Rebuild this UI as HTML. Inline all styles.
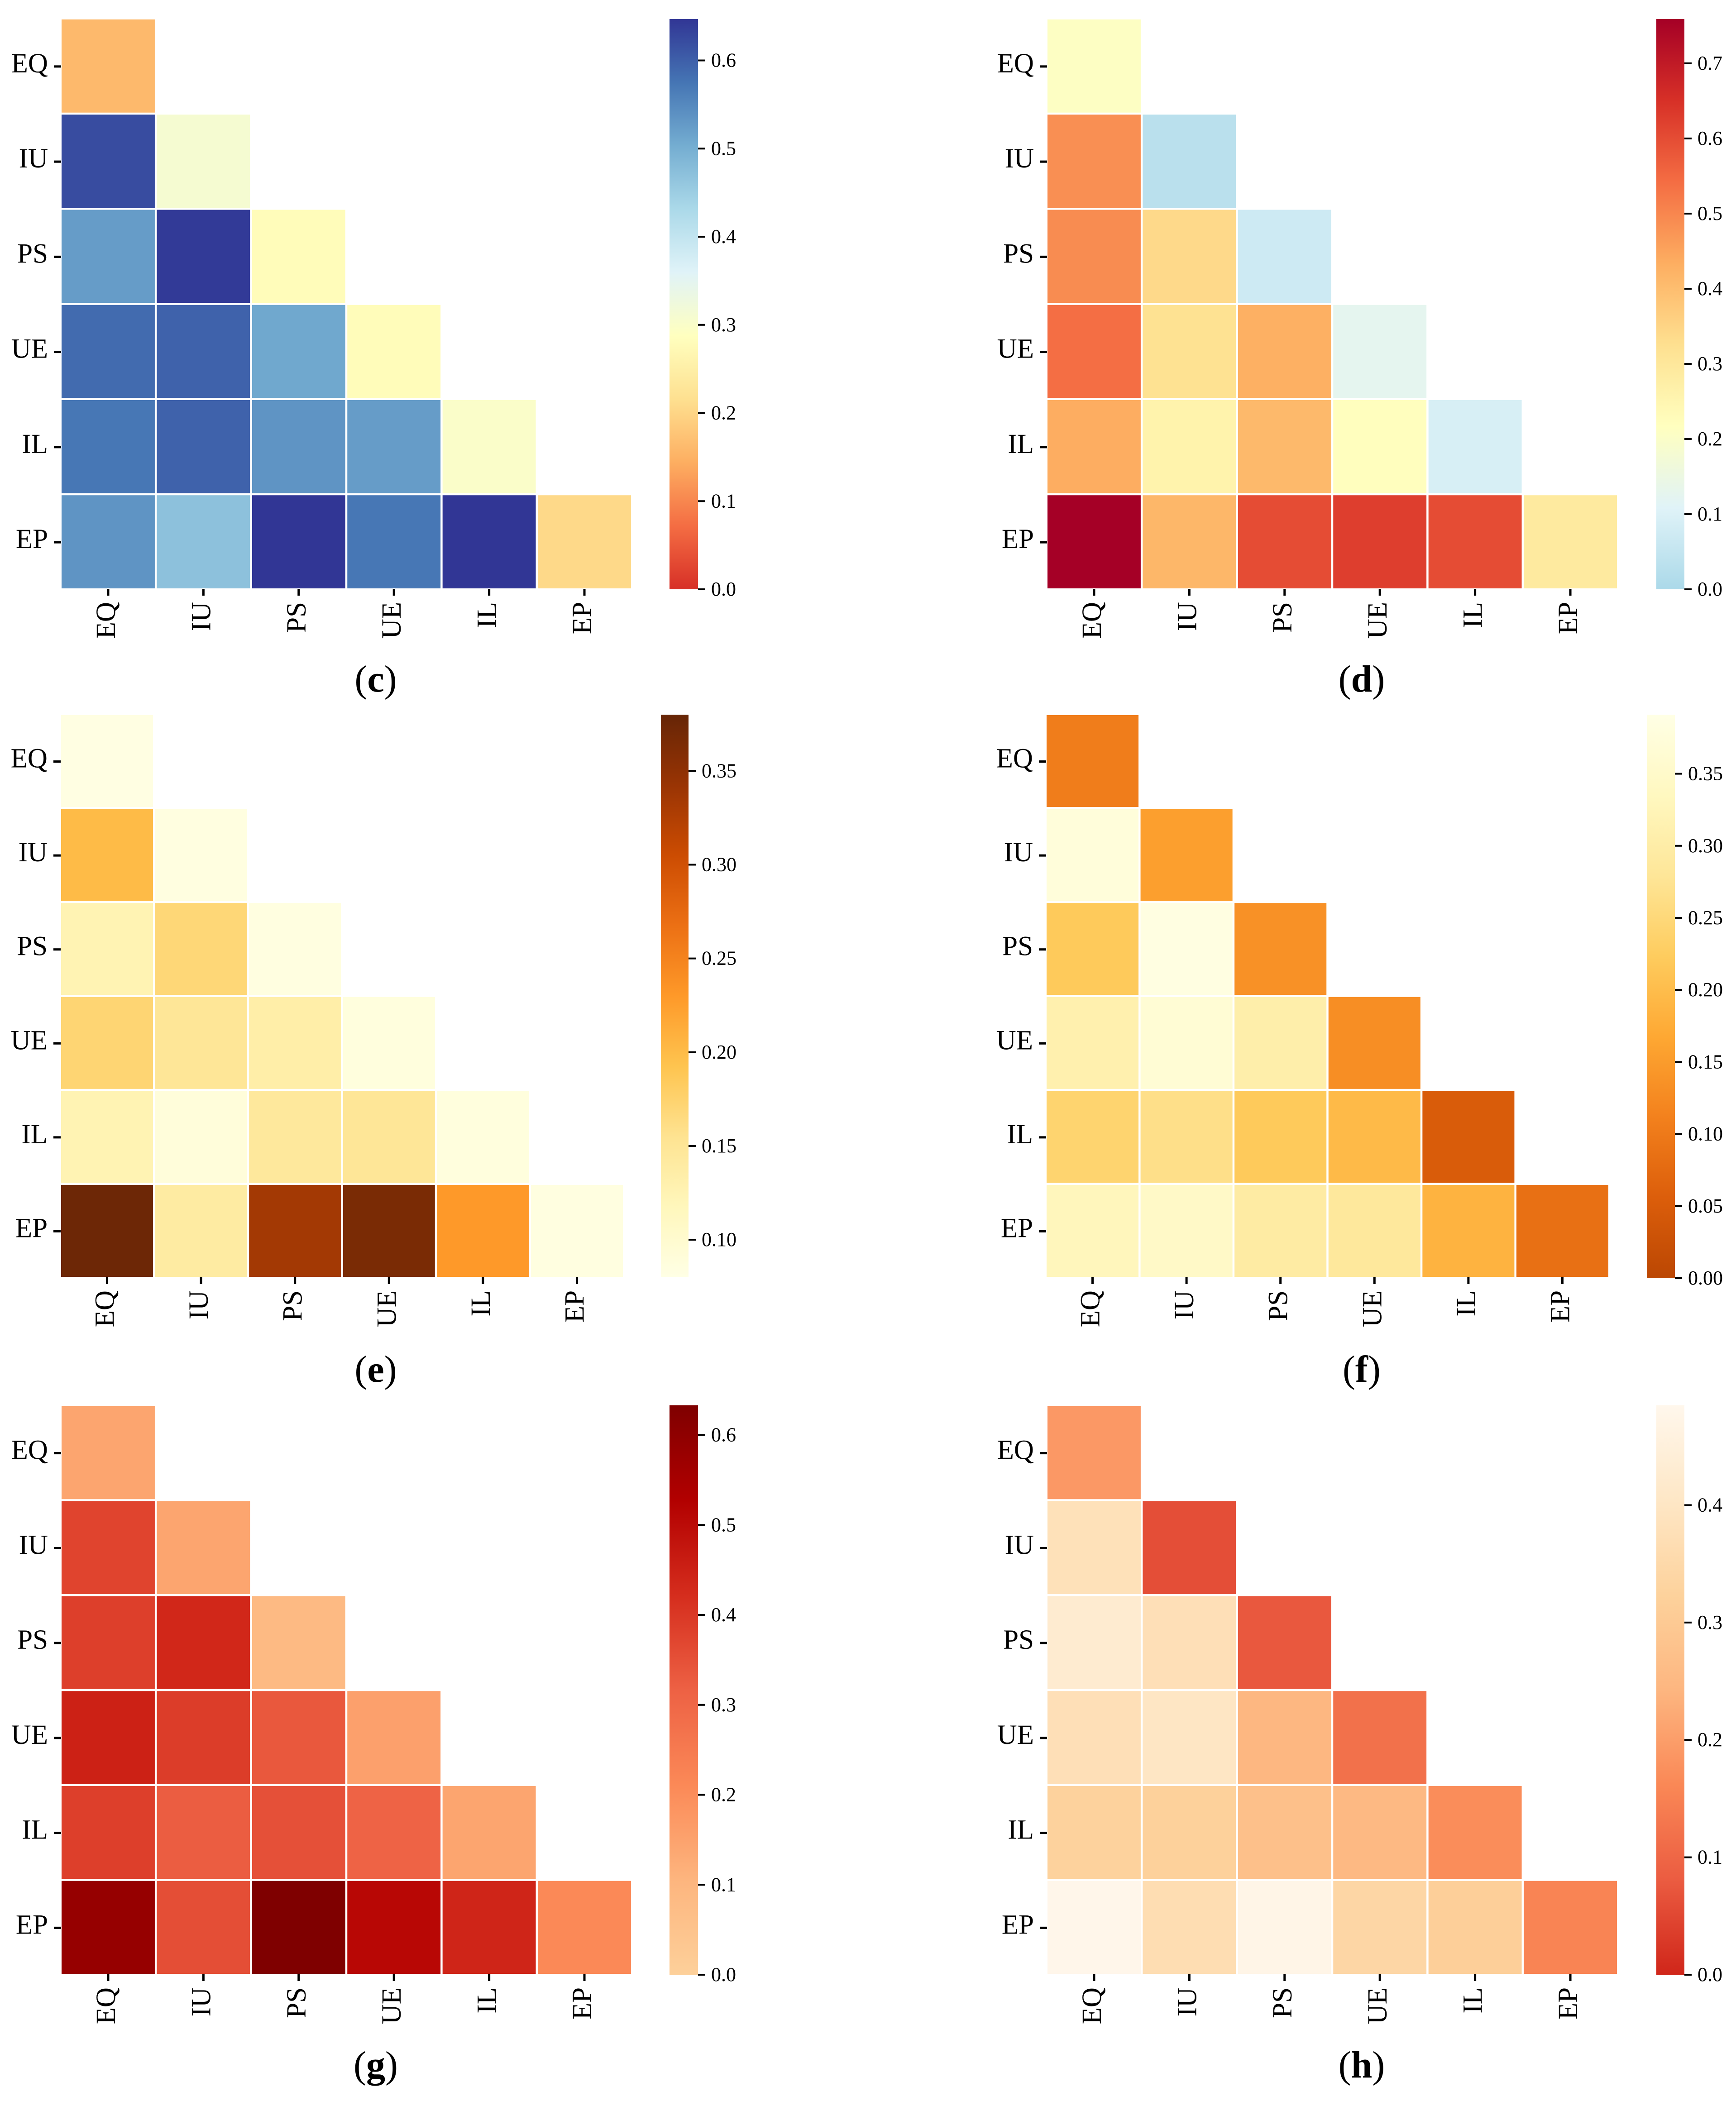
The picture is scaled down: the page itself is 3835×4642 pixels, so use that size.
<!DOCTYPE html>
<html lang="en">
<head>
<meta charset="utf-8">
<title>Correlation heatmaps (c)–(h)</title>
<style>
  html, body { margin: 0; padding: 0; background: #ffffff; }
  svg { display: block; }
  text { font-family: "Liberation Serif", serif; fill: #000; }
</style>
</head>
<body>
<svg id="figure" xmlns="http://www.w3.org/2000/svg" width="3835" height="4642" viewBox="0 0 3835 4642">
  <rect x="0" y="0" width="3835" height="4642" fill="#ffffff"></rect>
</svg>
<script>
// ---- Data ----
const categories = ["EQ", "IU", "PS", "UE", "IL", "EP"];

const valuesC = [
  [0.16],
  [0.622, 0.31],
  [0.525, 0.642, 0.28],
  [0.587, 0.597, 0.51, 0.28],
  [0.572, 0.597, 0.535, 0.525, 0.30],
  [0.535, 0.47, 0.647, 0.572, 0.647, 0.205]
];
const valuesD = [
  [0.21],
  [0.485, 0.03],
  [0.49, 0.34, 0.07],
  [0.54, 0.32, 0.43, 0.125],
  [0.435, 0.26, 0.41, 0.22, 0.09],
  [0.76, 0.415, 0.60, 0.625, 0.60, 0.29]
];
const valuesE = [
  [0.083],
  [0.20, 0.085],
  [0.125, 0.17, 0.085],
  [0.172, 0.15, 0.135, 0.087],
  [0.125, 0.09, 0.145, 0.15, 0.087],
  [0.375, 0.14, 0.335, 0.365, 0.23, 0.085]
];
const valuesF = [
  [0.105],
  [0.375, 0.155],
  [0.22, 0.385, 0.135],
  [0.31, 0.365, 0.305, 0.13],
  [0.24, 0.265, 0.22, 0.195, 0.05],
  [0.33, 0.345, 0.295, 0.285, 0.185, 0.085]
];
const valuesG = [
  [0.145],
  [0.375, 0.145],
  [0.385, 0.435, 0.085],
  [0.45, 0.39, 0.335, 0.155],
  [0.385, 0.325, 0.35, 0.31, 0.145],
  [0.585, 0.355, 0.633, 0.51, 0.44, 0.21]
];
const valuesH = [
  [0.19],
  [0.38, 0.06],
  [0.425, 0.375, 0.075],
  [0.375, 0.40, 0.245, 0.12],
  [0.325, 0.32, 0.27, 0.25, 0.17],
  [0.48, 0.365, 0.475, 0.34, 0.315, 0.155]
];

const ticksC = [0, 0.1, 0.2, 0.3, 0.4, 0.5, 0.6];
const ticksD = [0, 0.1, 0.2, 0.3, 0.4, 0.5, 0.6, 0.7];
const ticksE = [0.10, 0.15, 0.20, 0.25, 0.30, 0.35];
const ticksF = [0, 0.05, 0.10, 0.15, 0.20, 0.25, 0.30, 0.35];
const ticksG = [0, 0.1, 0.2, 0.3, 0.4, 0.5, 0.6];
const ticksH = [0, 0.1, 0.2, 0.3, 0.4];

const rangeC = [0, 0.647];
const rangeD = [0, 0.759];
const rangeE = [0.08, 0.38];
const rangeF = [0, 0.391];
const rangeG = [0, 0.633];
const rangeH = [0, 0.485];

// Colour ramps, low value to high value, evenly spaced
const rampC = ["#d73027","#f46d43","#fdae61","#fee090","#ffffbf","#e0f3f8","#abd9e9","#74add1","#4575b4","#313695"];
const rampD = ["#abd9e9","#e0f3f8","#ffffbf","#fee090","#fdae61","#f46d43","#d73027","#a50026"];
const rampE = ["#ffffe5","#fff7bc","#fee391","#fec44f","#fe9929","#ec7014","#cc4c02","#993404","#662506"];
const rampF = ["#bb4703","#dc5e0b","#f3811d","#fea833","#fecc5e","#fee698","#fff8c0","#ffffe5"];
const rampG = ["#fdd09a","#fdb57e","#fb8957","#ed6144","#d52d1d","#b20000","#7f0000"];
const rampH = ["#d0261a","#eb5c41","#fa8856","#fdb680","#fdd29c","#fee7c6","#fff7ec"];

// ---- Layout ----
const GAP = 4.5;
const colLeft = { x0: 136, x1: 1394, barX0: 1479, barX1: 1542, capX: 830 };
const colRight = { x0: 2314, x1: 3572, barX0: 3659, barX1: 3721, capX: 3008 };
const panels = [
  { id: "c", values: valuesC, ticks: ticksC, range: rangeC, ramp: rampC, digits: 1, ...colLeft, y0: 43, y1: 1300, barY0: 42, barY1: 1302, capY: 1528 },
  { id: "d", values: valuesD, ticks: ticksD, range: rangeD, ramp: rampD, digits: 1, ...colRight, y0: 43, y1: 1300, barY0: 42, barY1: 1302, capY: 1528 },
  { id: "e", values: valuesE, ticks: ticksE, range: rangeE, ramp: rampE, digits: 2, x0: 135, x1: 1376, barX0: 1460, barX1: 1521, capX: 830, y0: 1580, y1: 2821, barY0: 1579, barY1: 2822, capY: 3053 },
  { id: "f", values: valuesF, ticks: ticksF, range: rangeF, ramp: rampF, digits: 2, x0: 2312, x1: 3553, barX0: 3638, barX1: 3700, capX: 3008, y0: 1580, y1: 2821, barY0: 1579, barY1: 2824, capY: 3053 },
  { id: "g", values: valuesG, ticks: ticksG, range: rangeG, ramp: rampG, digits: 1, ...colLeft, y0: 3107, y1: 4361, barY0: 3105, barY1: 4363, capY: 4590 },
  { id: "h", values: valuesH, ticks: ticksH, range: rangeH, ramp: rampH, digits: 1, ...colRight, y0: 3107, y1: 4361, barY0: 3105, barY1: 4363, capY: 4590 }
];

const SVG_NS = "http://www.w3.org/2000/svg";
const svg = document.getElementById("figure");

function make(parent, tag, attrs) {
  const el = document.createElementNS(SVG_NS, tag);
  for (const k in attrs) el.setAttribute(k, attrs[k]);
  parent.appendChild(el);
  return el;
}

function hexToRgb(h) {
  return [parseInt(h.slice(1, 3), 16), parseInt(h.slice(3, 5), 16), parseInt(h.slice(5, 7), 16)];
}

function colorFor(ramp, range, v) {
  const t = Math.max(0, Math.min(1, (v - range[0]) / (range[1] - range[0])));
  const p = t * (ramp.length - 1);
  const i = Math.min(Math.floor(p), ramp.length - 2);
  const f = p - i;
  const a = hexToRgb(ramp[i]);
  const b = hexToRgb(ramp[i + 1]);
  const c = a.map((ch, n) => Math.round(ch + (b[n] - ch) * f));
  return "rgb(" + c.join(",") + ")";
}

panels.forEach(function (p) {
  const g = make(svg, "g", {});
  
  

  const n = categories.length;
  const pitchX = (p.x1 - p.x0 + GAP) / n;
  const pitchY = (p.y1 - p.y0 + GAP) / n;
  const xScale = function (i) { return p.x0 + i * pitchX; };
  const yScale = function (i) { return p.y0 + i * pitchY; };
  const barScale = function (v) {
    return p.barY1 - (v - p.range[0]) / (p.range[1] - p.range[0]) * (p.barY1 - p.barY0);
  };

  // Cells
  p.values.forEach(function (row, r) {
    row.forEach(function (v, c) {
      const cell = make(g, "rect", {
        x: xScale(c), y: yScale(r),
        width: pitchX - GAP, height: pitchY - GAP,
        fill: colorFor(p.ramp, p.range, v)
      });
      
      
    });
  });

  // Category axes
  categories.forEach(function (name, i) {
    const cy = yScale(i) + (pitchY - GAP) / 2 + 1;
    const yTick = make(g, "rect", { x: p.x0 - 17, y: cy - 2.5, width: 16, height: 5, fill: "#000" });
    
    
    const yLabel = make(g, "text", { x: p.x0 - 30, y: cy + 13, "text-anchor": "end", "font-size": 61 });
    yLabel.textContent = name;
    
    

    const cx = xScale(i) + (pitchX - GAP) / 2;
    const xTick = make(g, "rect", { x: cx - 2.5, y: p.y1 + 1, width: 5, height: 15, fill: "#000" });
    
    
    const xLabel = make(g, "text", {
      transform: "translate(" + (cx + 15) + "," + (p.y1 + 30) + ") rotate(-90)",
      "text-anchor": "end", "font-size": 61
    });
    xLabel.textContent = name;
    
    
  });

  // Colour bar
  const gradId = "bar-gradient-" + p.id;
  const defs = make(g, "defs", {});
  const grad = make(defs, "linearGradient", { id: gradId, x1: 0, y1: 1, x2: 0, y2: 0 });
  p.ramp.forEach(function (col, i) {
    make(grad, "stop", { offset: i / (p.ramp.length - 1), "stop-color": col });
  });
  const bar = make(g, "rect", {
    x: p.barX0, y: p.barY0,
    width: p.barX1 - p.barX0, height: p.barY1 - p.barY0,
    fill: "url(#" + gradId + ")"
  });
  
  

  p.ticks.forEach(function (v) {
    const y = barScale(v);
    const tick = make(g, "rect", { x: p.barX1, y: y - 2, width: 16, height: 4, fill: "#000" });
    
    
    const label = make(g, "text", { x: p.barX1 + 29, y: y + 14, "font-size": 44 });
    label.textContent = v.toFixed(p.digits);
    
    
  });

  // Caption
  const cap = make(g, "text", { x: p.capX, y: p.capY, "text-anchor": "middle", "font-size": 84 });
  
  
  const open = make(cap, "tspan", {});
  open.textContent = "(";
  const letter = make(cap, "tspan", { "font-weight": "bold" });
  letter.textContent = p.id;
  const close = make(cap, "tspan", {});
  close.textContent = ")";
});
</script>
</body>
</html>
